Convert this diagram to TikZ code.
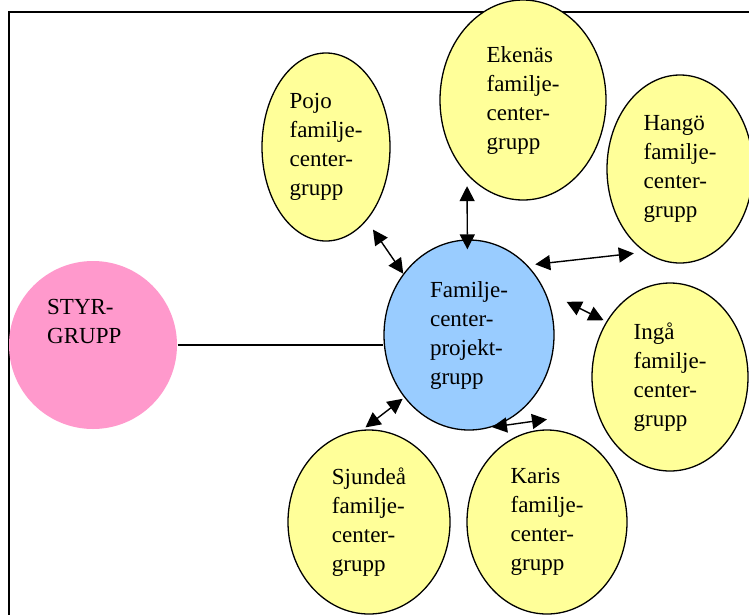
\documentclass[tikz,border=0pt]{standalone}
\usepackage{fontspec}
\setmainfont{Liberation Serif}
\usetikzlibrary{arrows.meta, shapes.geometric}

\definecolor{styrpink}{HTML}{FF99CC}
\definecolor{projblue}{HTML}{99CCFF}
\definecolor{grpyellow}{HTML}{FFFF99}

\begin{document}
\begin{tikzpicture}[
  x=1pt, y=-1pt,
  group/.style={ellipse, draw=black, fill=#1, line width=1.3pt,
                inner sep=0pt, align=left,
                font=\fontsize{23}{29}\selectfont},
  tag/.style={align=left, inner sep=0pt, anchor=north west,
              font=\fontsize{23}{29}\selectfont},
  link/.style={line width=1.4pt,
               {Triangle[length=15pt,width=15pt]}-{Triangle[length=15pt,width=15pt]}},
  >=stealth
]
\clip (0,0) rectangle (749,614);
\useasboundingbox (0,0) rectangle (749,614);

% --- Outer frame (runs off the page on the right and bottom) ---
\draw[line width=2pt] (9,12) rectangle (780,650);

% --- Steering group ---
\node[group=styrpink, draw=none, minimum width=168, minimum height=168]
  (styr) at (93,345) {};
\node[tag] (styrtext) at (47,299) {STYR-\\GRUPP};

% --- Project group in the middle ---
\node[group=projblue, minimum width=170, minimum height=190]
  (proj) at (469,335) {Familje-\\center-\\projekt-\\grupp};

% --- Local family centre groups ---
\foreach \name/\cx/\cy/\rx/\ry/\txt in {
    pojo/326/147/64/94/{Pojo\\familje-\\center-\\grupp},
    eken/523/100/83/100/{Eken\"as\\familje-\\center-\\grupp},
    hango/680/169/73/94/{Hang\"o\\familje-\\center-\\grupp},
    inga/670/377/78/94/{Ing\aa\\familje-\\center-\\grupp},
    karis/547/522/80/92/{Karis\\familje-\\center-\\grupp},
    sjund/369/522/81/92/{Sjunde\aa\\familje-\\center-\\grupp}}{
  \node[group=grpyellow, minimum width={2*\rx}, minimum height={2*\ry}]
    (\name) at (\cx,\cy) {\txt};
}

% --- Connections ---
\draw[line width=1.3pt] (styr.east) -- (styr.east -| proj.west);

\draw[link, shorten <=11pt] (pojo.-61.8) -- (proj.137);
\draw[link, shorten <=8pt, shorten >=-10pt] (eken.-124 -| 467,0) -- (proj.91);
\draw[link, shorten <=7.7pt, shorten >=11pt] (proj.50.7) -- (hango.-113.8);
\draw[link, shorten <=24pt, shorten >=3pt] (proj.30.1) -- (inga.139.2);
\draw[link, shorten <=3.7pt, shorten >=2pt] (sjund.94.3) -- (proj.-136.2);
\draw[link] (proj.-76.7) -- ([yshift=10pt]karis.north);

\end{tikzpicture}
\end{document}
